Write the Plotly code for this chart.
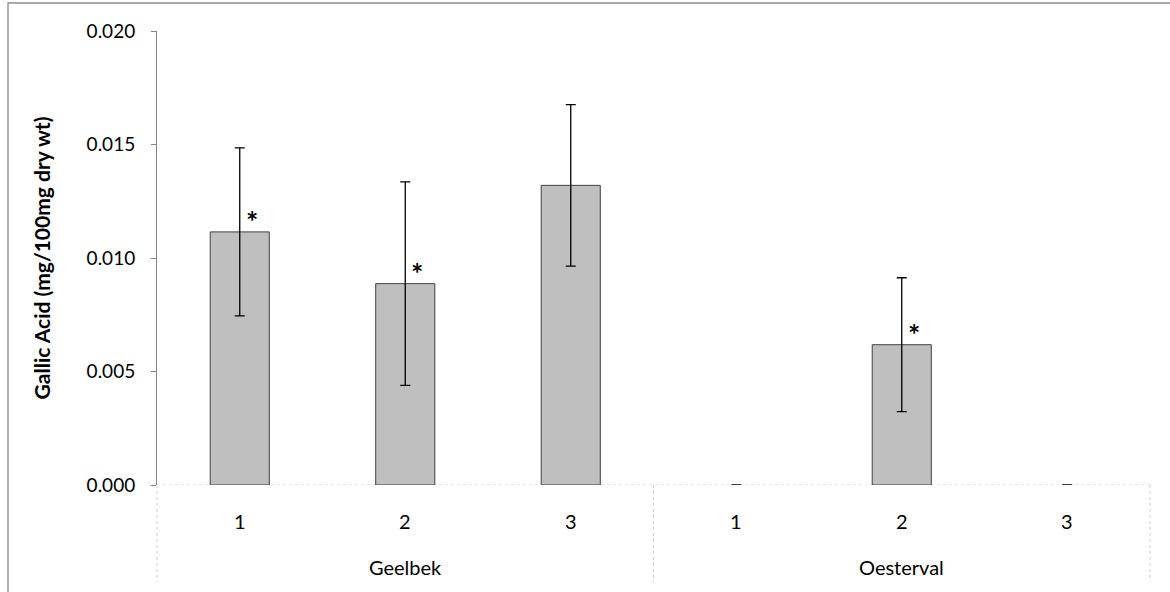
import plotly.graph_objects as go

# Gallic acid content per site and sample
sites = ["Geelbek", "Geelbek", "Geelbek", "Oesterval", "Oesterval", "Oesterval"]
samples = ["1", "2", "3", "1", "2", "3"]
gallic_acid = [0.01115, 0.00887, 0.01320, 0.0, 0.00618, 0.0]
std_err = [0.00370, 0.00448, 0.00356, 0.0, 0.00295, 0.0]
significant = [True, True, False, False, True, False]
y_ticks = [0.000, 0.005, 0.010, 0.015, 0.020]

FONT = "Lato, sans-serif"
W, H = 1170, 592
L, R, T, B = 157, 20, 31, 107
pw, ph = W - L - R, H - T - B

fig = go.Figure()

# empty bars get no outline, only their zero-length error cap shows
outline_w = [1 if v > 0 else 0 for v in gallic_acid]

fig.add_trace(go.Bar(
    x=[sites, samples],
    y=gallic_acid,
    marker=dict(color="#BFBFBF", line=dict(color="#404040", width=outline_w)),
    error_y=dict(type="data", array=std_err, visible=True,
                 color="#000000", thickness=1.3, width=5),
    showlegend=False,
    hoverinfo="skip",
))

n = len(samples)
annotations = []

# significance markers beside the error bars
for i, (v, flag) in enumerate(zip(gallic_acid, significant)):
    if flag:
        annotations.append(dict(
            xref="paper", yref="y", x=(i + 0.5) / n, y=v,
            text="<b>*</b>", showarrow=False,
            xanchor="center", yanchor="middle", xshift=12, yshift=11,
            font=dict(family=FONT, size=29, color="#000000"),
        ))

# sample labels
for i, s in enumerate(samples):
    annotations.append(dict(
        xref="paper", yref="paper", x=(i + 0.5) / n, y=-(521 - T - ph) / ph,
        text=s, showarrow=False, xanchor="center", yanchor="middle",
        font=dict(family=FONT, size=20, color="#000000"),
    ))

# site labels, centred under each group
groups = []
for i, s in enumerate(sites):
    if not groups or groups[-1][0] != s:
        groups.append([s, i, i])
    else:
        groups[-1][2] = i
for name, a, b in groups:
    annotations.append(dict(
        xref="paper", yref="paper", x=(a + b + 1) / 2 / n, y=-(567 - T - ph) / ph,
        text=name, showarrow=False, xanchor="center", yanchor="middle",
        font=dict(family=FONT, size=20, color="#000000"),
    ))

shapes = []
# outer chart border
shapes.append(dict(type="rect", xref="paper", yref="paper",
                   x0=(8 - L) / pw, x1=(W + 10 - L) / pw,
                   y0=-(H + 10 - T - ph) / ph, y1=(T + ph - 3) / ph,
                   line=dict(color="#8C8C8C", width=1.3), layer="below"))
# category axis baseline
shapes.append(dict(type="line", xref="paper", yref="y", x0=0, x1=1, y0=0, y1=0,
                   line=dict(color="#D0D0D0", width=1, dash="dot"), layer="below"))
# group dividers
for k in [0] + [b + 1 for _, _, b in groups]:
    shapes.append(dict(type="line", xref="paper", yref="paper",
                       x0=k / n, x1=k / n, y0=0, y1=-(582 - T - ph) / ph,
                       line=dict(color="#D0D0D0", width=1, dash="dot"), layer="below"))

fig.update_layout(
    width=W, height=H,
    margin=dict(l=L, r=R, t=T, b=B, autoexpand=False),
    paper_bgcolor="#FFFFFF", plot_bgcolor="#FFFFFF",
    bargap=0.643,
    font=dict(family=FONT, size=18, color="#000000"),
    shapes=shapes,
    annotations=annotations,
    xaxis=dict(
        type="multicategory",
        showline=False, showgrid=False, zeroline=False,
        showdividers=False, showticklabels=False, ticks="",
    ),
    yaxis=dict(
        range=[0, 0.020],
        tickvals=y_ticks,
        tickformat=".3f",
        showline=True, linecolor="#868686", linewidth=1,
        ticks="outside", ticklen=5, tickcolor="#868686",
        ticklabelstandoff=12,
        showgrid=False, zeroline=False,
        tickfont=dict(family=FONT, size=19, color="#000000"),
        title=dict(text="<b>Gallic Acid (mg/100mg dry wt)</b>",
                   font=dict(family=FONT, size=21, color="#000000"),
                   standoff=30),
    ),
)

fig.write_html("out.html")
